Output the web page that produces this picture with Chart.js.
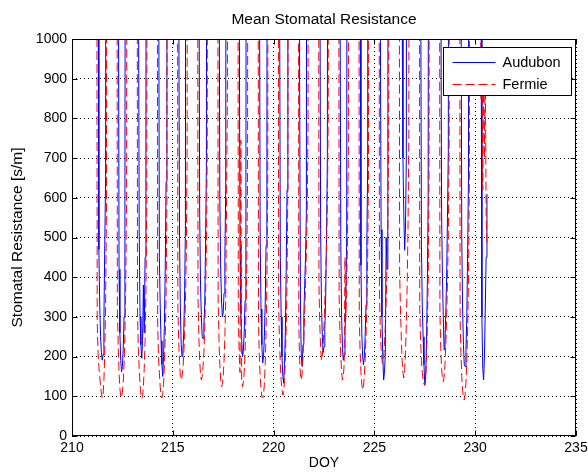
<!DOCTYPE html>
<html>
<head>
<meta charset="utf-8">
<script src="https://cdn.jsdelivr.net/npm/chart.js@4"></script>
<style>
html,body{margin:0;padding:0;background:#fff;}
#wrap{width:588px;height:473px;}
</style>
</head>
<body>
<div id="wrap"><canvas id="c" width="588" height="473"></canvas></div>
<script>
// ---- data ----
const titleText = 'Mean Stomatal Resistance';
const xTitle = 'DOY';
const yTitle = 'Stomatal Resistance [s/m]';
const seriesNames = ['Audubon', 'Fermie'];
const xTicks = [210, 215, 220, 225, 230, 235];
const yTicks = [0, 100, 200, 300, 400, 500, 600, 700, 800, 900, 1000];

// day of year, and hour of day of each reading within that day
const days = [211, 212, 213, 214, 215, 216, 217, 218, 219, 220,
              221, 222, 223, 224, 225, 226, 227, 228, 229, 230];
const hours = [5, 6, 7, 8, 9, 10, 11, 12, 13, 14, 15, 16, 17, 18];

// Audubon (values above 1000 run off the top of the axes)
const audubon = [
  [3000, 3000, 1300, 470, 330, 250, 210, 191, 205, 290, 480, 650, 3000, 3000],
  [3000, 3000, 1500, 420, 260, 190, 162, 175, 220, 300, 520, 3000, 3000, 3000],
  [3000, 3000, 1250, 520, 300, 230, 196, 240, 380, 260, 450, 700, 3000, 3000],
  [3000, 3000, 1400, 450, 330, 240, 180, 150, 200, 280, 420, 640, 3000, 3000],
  [3000, 3000, 1200, 500, 320, 230, 200, 215, 260, 350, 520, 3000, 3000, 3000],
  [3000, 3000, 1350, 560, 380, 300, 250, 245, 280, 330, 480, 680, 3000, 3000],
  [3000, 3000, 1300, 600, 420, 340, 300, 310, 360, 450, 620, 3000, 3000, 3000],
  [3000, 3000, 1200, 480, 310, 240, 200, 215, 260, 340, 500, 3000, 3000, 3000],
  [3000, 3000, 1350, 500, 320, 230, 184, 200, 250, 330, 480, 660, 3000, 3000],
  [3000, 3000, 1250, 450, 300, 200, 150, 133, 180, 260, 420, 620, 3000, 3000],
  [3000, 3000, 900, 320, 200, 175, 230, 300, 380, 450, 560, 3000, 3000, 3000],
  [3000, 3000, 1300, 520, 330, 250, 210, 225, 270, 350, 500, 700, 3000, 3000],
  [3000, 3000, 1200, 480, 300, 220, 191, 205, 260, 340, 500, 3000, 3000, 3000],
  [3000, 3000, 1200, 430, 260, 200, 179, 200, 250, 330, 480, 680, 3000, 3000],
  [3000, 3000, 1100, 520, 300, 200, 141, 160, 210, 500, 420, 650, 3000, 3000],
  [3000, 3000, 3000, 3000, 1100, 700, 560, 468, 520, 700, 3000, 3000, 3000, 3000],
  [3000, 3000, 1300, 480, 330, 250, 180, 128, 150, 230, 380, 600, 3000, 3000],
  [3000, 3000, 1250, 560, 400, 300, 217, 240, 310, 400, 550, 720, 3000, 3000],
  [3000, 3000, 1300, 500, 320, 230, 180, 175, 215, 300, 460, 650, 3000, 3000],
  [3000, 3000, 1100, 300, 170, 141, 200, 320, 450, 610, null, null, null, null]
];

// Fermie
const fermie = [
  [3000, 290, 210, 175, 150, 125, 108, 96, 102, 140, 210, 330, 560, 3000],
  [3000, 320, 230, 160, 120, 100, 96, 110, 135, 180, 260, 380, 620, 3000],
  [3000, 310, 220, 170, 130, 105, 94, 100, 125, 170, 240, 360, 580, 3000],
  [3000, 280, 200, 160, 125, 100, 96, 105, 130, 175, 250, 350, 600, 3000],
  [3000, 330, 240, 185, 150, 141, 150, 170, 200, 260, 330, 450, 700, 3000],
  [3000, 350, 250, 190, 155, 141, 150, 175, 210, 270, 350, 480, 720, 3000],
  [3000, 340, 240, 180, 140, 124, 130, 150, 190, 250, 340, 600, 850, 3000],
  [3000, 300, 210, 160, 745, 140, 124, 135, 160, 210, 300, 420, 650, 3000],
  [3000, 290, 200, 150, 120, 100, 96, 105, 130, 180, 260, 380, 620, 3000],
  [3000, 330, 240, 180, 140, 115, 103, 110, 140, 190, 270, 390, 640, 3000],
  [3000, 280, 190, 150, 141, 160, 200, 250, 310, 380, 460, 560, 780, 3000],
  [3000, 380, 280, 220, 191, 200, 230, 280, 340, 400, 480, 580, 800, 3000],
  [3000, 350, 260, 200, 160, 141, 150, 180, 450, 300, 380, 500, 720, 3000],
  [3000, 300, 210, 160, 130, 116, 125, 150, 190, 250, 330, 450, 680, 3000],
  [3000, 360, 270, 220, 190, 183, 195, 230, 280, 340, 420, 520, 760, 3000],
  [3000, 420, 320, 250, 190, 160, 146, 165, 210, 280, 380, 520, 760, 3000],
  [3000, 320, 240, 190, 160, 140, 130, 128, 145, 190, 270, 390, 640, 3000],
  [3000, 310, 220, 170, 145, 137, 150, 180, 230, 300, 390, 510, 740, 3000],
  [3000, 300, 210, 150, 115, 95, 91, 105, 135, 185, 270, 390, 640, 3000],
  [3000, 1200, 850, 980, 620, 900, 700, 950, 560, 480, null, null, null, null]
];

// ---- build point lists ----
function toPoints(table) {
  const pts = [];
  days.forEach((d, i) => {
    hours.forEach((h, j) => {
      pts.push({x: d + h / 24, y: table[i][j]});
    });
  });
  return pts;
}

const FONT = "'Liberation Sans', Arial, Helvetica, sans-serif";
const LINE_STYLES = [
  {color: '#0000ff', dash: []},
  {color: '#ff0000', dash: [9, 4]}
];

const frameAndLegend = {
  id: 'frameAndLegend',
  afterDatasetsDraw(chart) {
    const {ctx, chartArea: a, scales} = chart;
    const L = Math.round(a.left) + 0.5, R = Math.round(a.right) - 0.5;
    const T = Math.round(a.top) + 0.5, B = Math.round(a.bottom) - 0.5;
    ctx.save();
    ctx.setLineDash([]);
    ctx.strokeStyle = '#000';
    ctx.lineWidth = 1;
    ctx.strokeRect(L, T, R - L, B - T);
    const tl = 5;
    ctx.beginPath();
    scales.x.ticks.forEach(t => {
      const px = Math.round(scales.x.getPixelForValue(t.value)) + 0.5;
      ctx.moveTo(px, B); ctx.lineTo(px, B - tl);
      ctx.moveTo(px, T); ctx.lineTo(px, T + tl);
    });
    scales.y.ticks.forEach(t => {
      const py = Math.round(scales.y.getPixelForValue(t.value)) + 0.5;
      ctx.moveTo(L, py); ctx.lineTo(L + tl, py);
      ctx.moveTo(R, py); ctx.lineTo(R - tl, py);
    });
    ctx.stroke();

    // legend box
    const w = 128, h = 48;
    const bx = Math.round(a.right) - 5 - w + 0.5;
    const by = Math.round(a.top) + 8 + 0.5;
    ctx.fillStyle = '#fff';
    ctx.fillRect(bx, by, w, h);
    ctx.strokeStyle = '#000';
    ctx.strokeRect(bx, by, w, h);
    ctx.font = '14.5px ' + FONT;
    ctx.textBaseline = 'middle';
    ctx.textAlign = 'left';
    chart.data.datasets.forEach((ds, i) => {
      const ly = Math.round(by + 14 + i * 22) + 0.5;
      ctx.beginPath();
      ctx.strokeStyle = ds.borderColor;
      ctx.setLineDash(ds.borderDash || []);
      ctx.moveTo(bx + 9, ly);
      ctx.lineTo(bx + 52, ly);
      ctx.stroke();
      ctx.setLineDash([]);
      ctx.fillStyle = '#000';
      ctx.fillText(ds.label, bx + 59, ly);
    });
    ctx.restore();
  }
};

new Chart(document.getElementById('c'), {
  type: 'line',
  data: {
    datasets: [
      {label: seriesNames[0], data: toPoints(audubon), borderColor: LINE_STYLES[0].color,
       borderDash: LINE_STYLES[0].dash, borderWidth: 1, pointRadius: 0, tension: 0,
       spanGaps: false, fill: false, order: 1, clip: 0},
      {label: seriesNames[1], data: toPoints(fermie), borderColor: LINE_STYLES[1].color,
       borderDash: LINE_STYLES[1].dash, borderWidth: 1, pointRadius: 0, tension: 0,
       spanGaps: false, fill: false, order: 0, clip: 0}
    ]
  },
  options: {
    responsive: false,
    animation: false,
    devicePixelRatio: 1,
    layout: {padding: {left: 0, right: 12, top: 0, bottom: 0}},
    plugins: {
      legend: {display: false},
      tooltip: {enabled: false},
      title: {display: true, text: titleText, color: '#000', fullSize: false,
              font: {family: FONT, size: 15.5, weight: 'normal'},
              padding: {top: 10, bottom: 10.4}}
    },
    scales: {
      x: {
        type: 'linear', min: xTicks[0], max: xTicks[xTicks.length - 1],
        afterBuildTicks: s => { s.ticks = xTicks.map(v => ({value: v})); },
        ticks: {color: '#000', font: {family: FONT, size: 14}, padding: 4, maxRotation: 0,
                callback: v => String(v)},
        grid: {color: '#000', lineWidth: 1, drawTicks: false},
        border: {display: false, dash: [1, 3]},
        title: {display: true, text: xTitle, color: '#000',
                font: {family: FONT, size: 14}, padding: {top: 0, bottom: 1}},
        afterFit: s => { s.height = 37; s.paddingLeft = 0; s.paddingRight = 0; }
      },
      y: {
        min: yTicks[0], max: yTicks[yTicks.length - 1],
        afterBuildTicks: s => { s.ticks = yTicks.map(v => ({value: v})); },
        ticks: {color: '#000', font: {family: FONT, size: 14}, padding: 5,
                callback: v => String(v)},
        grid: {color: '#000', lineWidth: 1, drawTicks: false},
        border: {display: false, dash: [1, 3]},
        title: {display: true, text: yTitle, color: '#000',
                font: {family: FONT, size: 15.5}, padding: {top: 8, bottom: 0}},
        afterFit: s => { s.width = 72; s.paddingTop = 0; s.paddingBottom = 0; }
      }
    }
  },
  plugins: [frameAndLegend]
});
</script>
</body>
</html>
